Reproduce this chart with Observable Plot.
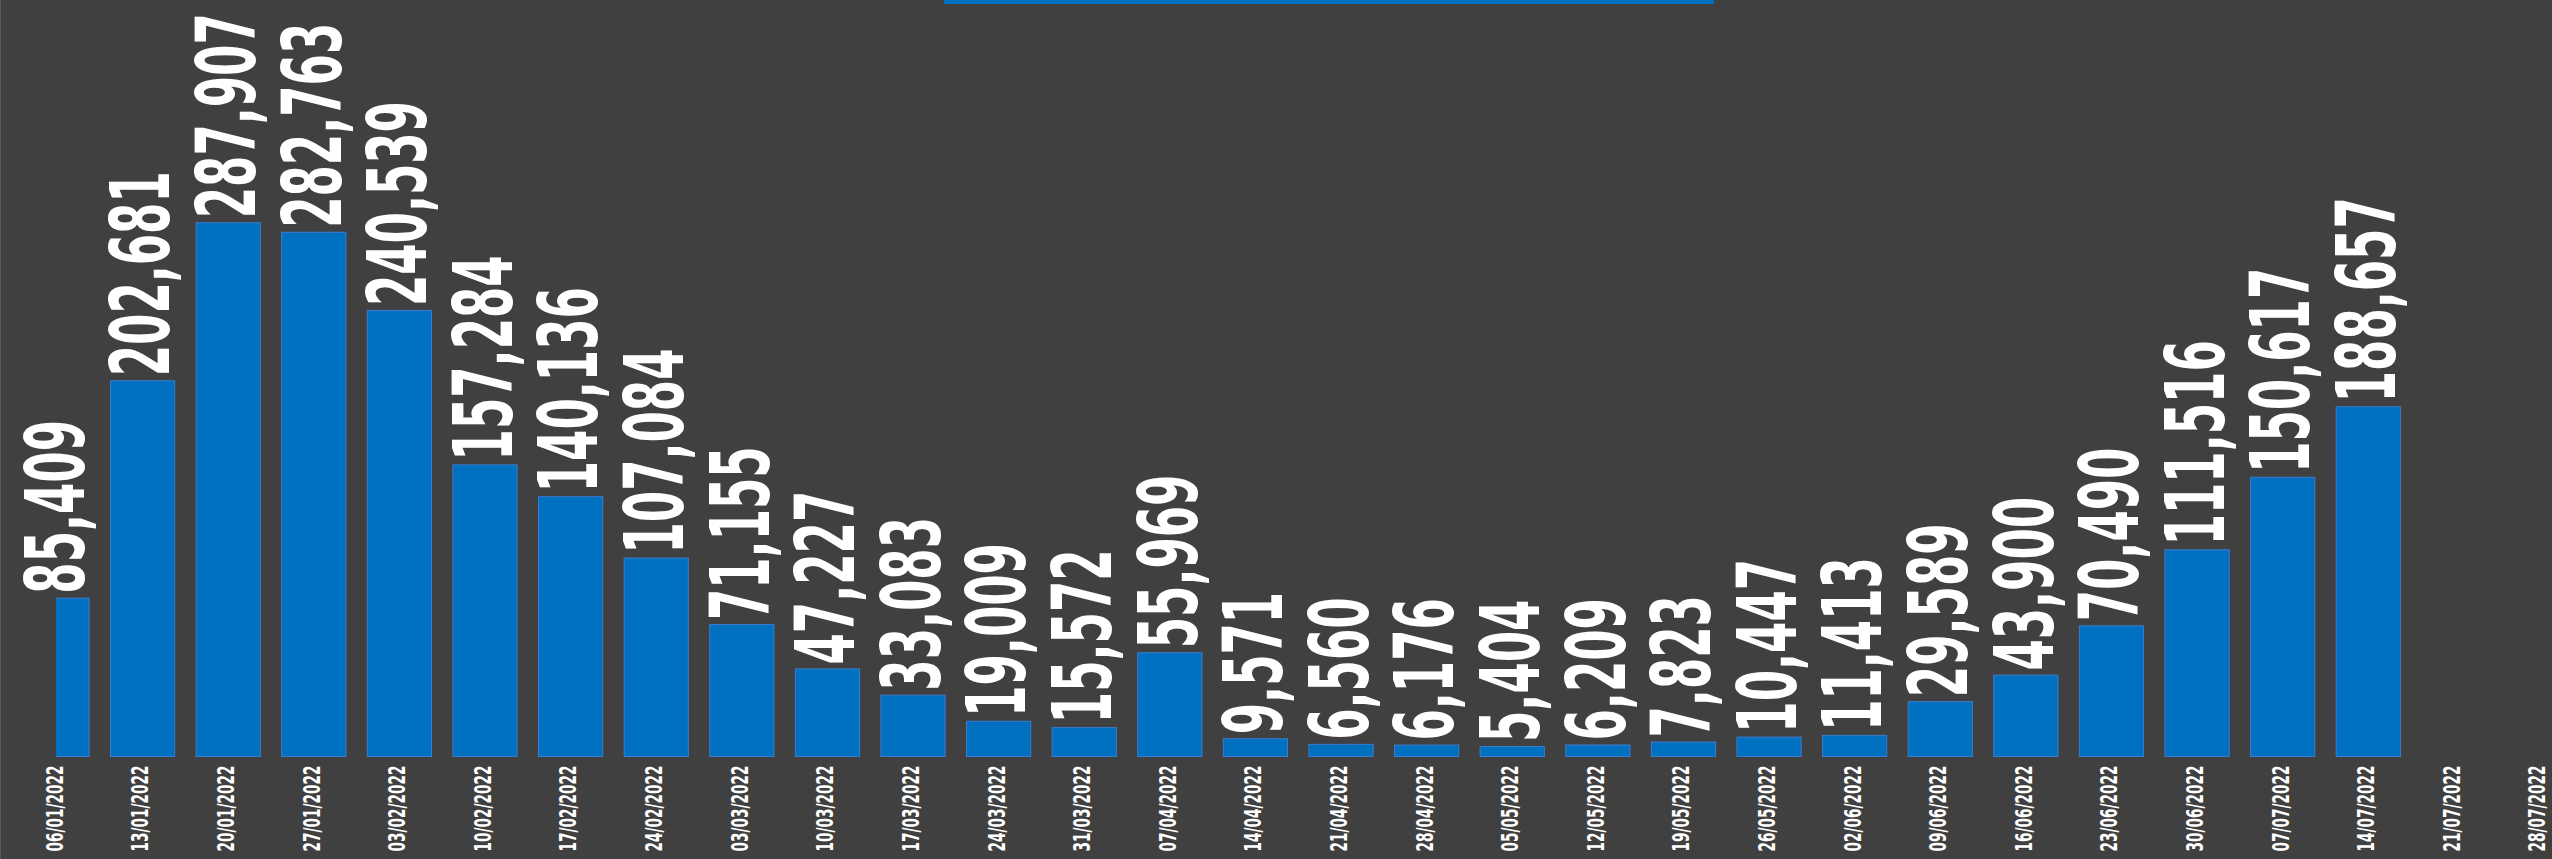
<!DOCTYPE html>
<html>
<head>
<meta charset="utf-8">
<script src="https://cdn.jsdelivr.net/npm/d3@7"></script>
<script src="https://cdn.jsdelivr.net/npm/@observablehq/plot@0.6"></script>
<style>
  html, body { margin: 0; padding: 0; background: #404040; }
  #wrap { position: relative; width: 2552px; height: 859px; overflow: hidden; background: #404040; }
  #edge { position: absolute; left: 0; top: 0; width: 1px; height: 859px; background: #5a5a5a; }
  #titlebar { position: absolute; left: 944px; top: 0; width: 770px; height: 4px; background: #0070c0; }
  #chart { position: absolute; left: 0; top: 0; }
  svg text { font-family: "DejaVu Sans Condensed", "DejaVu Sans", sans-serif; font-stretch: condensed; }
</style>
</head>
<body>
<div id="wrap">
  <div id="chart"></div>
  <div id="edge"></div>
  <div id="titlebar"></div>
</div>
<script>
const dates = ["06/01/2022","13/01/2022","20/01/2022","27/01/2022","03/02/2022","10/02/2022","17/02/2022","24/02/2022","03/03/2022","10/03/2022","17/03/2022","24/03/2022","31/03/2022","07/04/2022","14/04/2022","21/04/2022","28/04/2022","05/05/2022","12/05/2022","19/05/2022","26/05/2022","02/06/2022","09/06/2022","16/06/2022","23/06/2022","30/06/2022","07/07/2022","14/07/2022","21/07/2022","28/07/2022"];
const values = [85409,202681,287907,282763,240539,157284,140136,107084,71155,47227,33083,19009,15572,55969,9571,6560,6176,5404,6209,7823,10447,11413,29589,43900,70490,111516,150617,188657];

const data = values.map((v, i) => ({date: dates[i], value: v}));
const fmt = d3.format(",");

const chart = Plot.plot({
  width: 2552,
  height: 859,
  marginLeft: 56,
  marginRight: 0,
  marginTop: 0,
  marginBottom: 102,
  style: {background: "#404040", color: "#ffffff", overflow: "visible"},
  x: {domain: dates, range: [3.5, 2593], padding: 0.25, round: false, label: null},
  y: {domain: [0, 300000], range: [756.5, 200.3], axis: null},
  marks: [
    Plot.barY(data, {x: "date", y: "value", fill: "#0070c0", stroke: "#3b7dd0", strokeWidth: 1, clip: true}),
    Plot.text(data, {x: "date", y: "value", text: d => fmt(d.value), rotate: -90, textAnchor: "start", lineAnchor: "middle", dy: -5, fill: "#ffffff", fontSize: 82, fontWeight: "bold"}),
    Plot.axisX({tickRotate: -90, tickSize: 0, tickPadding: 8, dx: -2, fontSize: 23, fontWeight: "bold", fill: "#ffffff", label: null})
  ]
});
document.getElementById("chart").appendChild(chart);

// compress labels along their length to mimic the condensed display face of the original
function squeeze(selector, refIndex, targetLen) {
  const texts = Array.from(chart.querySelectorAll(selector));
  if (!texts.length) return;
  const ref = texts[Math.min(refIndex, texts.length - 1)];
  const len = ref.getComputedTextLength();
  const k = len > 0 ? targetLen / len : 1;
  texts.forEach(t => {
    const tr = t.getAttribute("transform") || "";
    t.setAttribute("transform", tr + ` scale(${k},1)`);
  });
}
squeeze('g[aria-label="text"] text', 2, 205);
squeeze('g[aria-label="x-axis tick label"] text', 0, 86);
</script>
</body>
</html>
